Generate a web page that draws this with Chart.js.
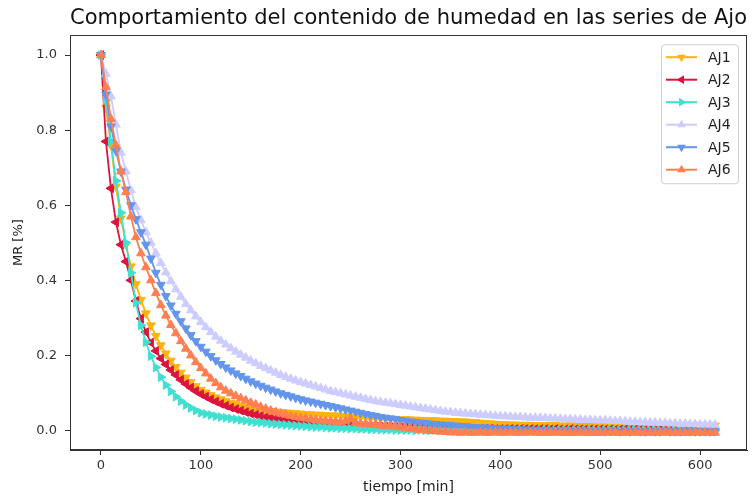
<!doctype html>
<html lang="es">
<head>
<meta charset="utf-8">
<title>Comportamiento del contenido de humedad en las series de Ajo</title>
<script src="https://cdn.jsdelivr.net/npm/chart.js@4.4.0/dist/chart.umd.min.js"></script>
<style>
    html, body { margin: 0; padding: 0; background: #fff; }
    #contenedor { width: 753px; height: 500px; }
</style>
</head>
<body>
<div id="contenedor"><canvas id="grafico"></canvas></div>
<script>
    // tiempo de secado [min]
    const tiempo = [
        0, 5, 10, 15, 20, 25, 30, 35, 40, 45,
        50, 55, 60, 65, 70, 75, 80, 85, 90, 95,
        100, 105, 110, 115, 120, 125, 130, 135, 140, 145,
        150, 155, 160, 165, 170, 175, 180, 185, 190, 195,
        200, 205, 210, 215, 220, 225, 230, 235, 240, 245,
        250, 255, 260, 265, 270, 275, 280, 285, 290, 295,
        300, 305, 310, 315, 320, 325, 330, 335, 340, 345,
        350, 355, 360, 365, 370, 375, 380, 385, 390, 395,
        400, 405, 410, 415, 420, 425, 430, 435, 440, 445,
        450, 455, 460, 465, 470, 475, 480, 485, 490, 495,
        500, 505, 510, 515, 520, 525, 530, 535, 540, 545,
        550, 555, 560, 565, 570, 575, 580, 585, 590, 595,
        600, 605, 610, 615
    ];

    // razon de humedad MR por serie
    const aj1 = [
        1.000, 0.860, 0.760, 0.650, 0.565, 0.495, 0.437, 0.390, 0.348, 0.312,
        0.280, 0.252, 0.227, 0.205, 0.186, 0.169, 0.154, 0.141, 0.129, 0.118,
        0.108, 0.101, 0.094, 0.088, 0.083, 0.078, 0.074, 0.070, 0.066, 0.063,
        0.060, 0.058, 0.056, 0.054, 0.052, 0.050, 0.049, 0.048, 0.047, 0.046,
        0.045, 0.044, 0.043, 0.042, 0.042, 0.041, 0.040, 0.040, 0.039, 0.038,
        0.037, 0.036, 0.036, 0.035, 0.034, 0.034, 0.033, 0.032, 0.032, 0.031,
        0.030, 0.030, 0.029, 0.029, 0.028, 0.028, 0.027, 0.027, 0.026, 0.026,
        0.025, 0.025, 0.024, 0.024, 0.023, 0.022, 0.021, 0.020, 0.019, 0.018,
        0.017, 0.017, 0.016, 0.016, 0.015, 0.015, 0.015, 0.014, 0.014, 0.014,
        0.014, 0.014, 0.013, 0.013, 0.014, 0.013, 0.013, 0.013, 0.014, 0.013,
        0.013, 0.013, 0.013, 0.014, 0.013, 0.013, 0.012, 0.013, 0.013, 0.013,
        0.013, 0.012, 0.013, 0.013, 0.013, 0.012, 0.013, 0.013, 0.012, 0.013,
        0.013, 0.012, 0.013, 0.013
    ];
    const aj2 = [
        1.000, 0.770, 0.645, 0.555, 0.495, 0.450, 0.400, 0.345, 0.298, 0.262,
        0.234, 0.212, 0.192, 0.176, 0.161, 0.148, 0.135, 0.124, 0.114, 0.105,
        0.097, 0.090, 0.083, 0.077, 0.071, 0.066, 0.061, 0.057, 0.053, 0.049,
        0.045, 0.042, 0.039, 0.036, 0.034, 0.032, 0.030, 0.028, 0.026, 0.025,
        0.024, 0.023, 0.022, 0.021, 0.020, 0.019, 0.018, 0.017, 0.016, 0.015,
        0.014, 0.013, 0.012, 0.012, 0.011, 0.011, 0.010, 0.010, 0.009, 0.009,
        0.008, 0.008, 0.008, 0.007, 0.007, 0.007, 0.007, 0.006, 0.006, 0.006,
        0.006, 0.006, 0.005, 0.005, 0.005, 0.005, 0.005, 0.005, 0.005, 0.004,
        0.004, 0.004, 0.004, 0.004, 0.004, 0.004, 0.004, 0.004, 0.004, 0.004,
        0.003, 0.004, 0.003, 0.003, 0.004, 0.003, 0.003, 0.003, 0.003, 0.003,
        0.003, 0.003, 0.003, 0.002, 0.003, 0.003, 0.002, 0.003, 0.002, 0.002,
        0.002, 0.002, 0.003, 0.002, 0.002, 0.002, 0.002, 0.002, 0.002, 0.002,
        0.002, 0.002, 0.002, 0.002
    ];
    const aj3 = [
        1.000, 0.880, 0.770, 0.665, 0.580, 0.500, 0.420, 0.340, 0.280, 0.235,
        0.198, 0.168, 0.142, 0.121, 0.104, 0.090, 0.078, 0.068, 0.060, 0.053,
        0.047, 0.044, 0.041, 0.038, 0.036, 0.034, 0.032, 0.030, 0.028, 0.026,
        0.024, 0.022, 0.021, 0.020, 0.018, 0.017, 0.016, 0.015, 0.014, 0.013,
        0.012, 0.011, 0.010, 0.009, 0.009, 0.008, 0.007, 0.007, 0.006, 0.006,
        0.005, 0.005, 0.004, 0.004, 0.003, 0.003, 0.002, 0.002, 0.002, 0.001,
        0.001, 0.001, 0.001, 0.000, 0.001, 0.000, 0.000, 0.001, 0.000, 0.000,
        0.000, 0.001, 0.000, 0.000, 0.000, 0.001, 0.000, 0.000, 0.000, 0.000,
        0.001, 0.000, 0.000, 0.000, 0.001, 0.000, 0.000, 0.000, 0.000, 0.001,
        0.000, 0.000, 0.000, 0.001, 0.000, 0.000, 0.000, 0.000, 0.001, 0.000,
        0.000, 0.000, 0.001, 0.000, 0.000, 0.000, 0.000, 0.001, 0.000, 0.000,
        0.000, 0.001, 0.000, 0.000, 0.000, 0.000, 0.001, 0.000, 0.000, 0.000,
        0.000, 0.000, 0.000, 0.000
    ];
    const aj4 = [
        1.000, 0.950, 0.890, 0.815, 0.740, 0.690, 0.640, 0.595, 0.560, 0.528,
        0.500, 0.472, 0.446, 0.421, 0.398, 0.376, 0.356, 0.337, 0.320, 0.304,
        0.289, 0.275, 0.262, 0.250, 0.239, 0.229, 0.219, 0.210, 0.202, 0.194,
        0.186, 0.179, 0.172, 0.166, 0.160, 0.154, 0.148, 0.143, 0.138, 0.133,
        0.129, 0.125, 0.121, 0.117, 0.113, 0.109, 0.105, 0.102, 0.099, 0.096,
        0.093, 0.090, 0.087, 0.084, 0.081, 0.078, 0.076, 0.074, 0.072, 0.070,
        0.068, 0.066, 0.064, 0.062, 0.060, 0.058, 0.056, 0.054, 0.052, 0.050,
        0.049, 0.047, 0.046, 0.045, 0.044, 0.043, 0.042, 0.041, 0.040, 0.039,
        0.038, 0.038, 0.037, 0.036, 0.036, 0.035, 0.034, 0.034, 0.034, 0.033,
        0.032, 0.032, 0.031, 0.030, 0.030, 0.029, 0.029, 0.028, 0.028, 0.027,
        0.027, 0.027, 0.026, 0.025, 0.025, 0.024, 0.023, 0.023, 0.022, 0.022,
        0.021, 0.021, 0.020, 0.020, 0.019, 0.019, 0.018, 0.018, 0.017, 0.017,
        0.016, 0.016, 0.016, 0.015
    ];
    const aj5 = [
        1.000, 0.895, 0.810, 0.745, 0.690, 0.642, 0.600, 0.563, 0.528, 0.495,
        0.458, 0.420, 0.388, 0.358, 0.333, 0.311, 0.291, 0.272, 0.254, 0.238,
        0.223, 0.210, 0.198, 0.187, 0.177, 0.168, 0.160, 0.152, 0.145, 0.138,
        0.131, 0.125, 0.119, 0.114, 0.109, 0.104, 0.099, 0.095, 0.091, 0.087,
        0.083, 0.080, 0.077, 0.074, 0.071, 0.068, 0.065, 0.062, 0.059, 0.056,
        0.053, 0.050, 0.047, 0.044, 0.041, 0.039, 0.036, 0.034, 0.032, 0.030,
        0.028, 0.026, 0.024, 0.022, 0.021, 0.020, 0.018, 0.017, 0.016, 0.015,
        0.014, 0.013, 0.012, 0.011, 0.010, 0.009, 0.008, 0.008, 0.007, 0.006,
        0.005, 0.005, 0.004, 0.003, 0.003, 0.002, 0.002, 0.001, 0.001, 0.000,
        0.000, 0.000, -0.001, 0.000, -0.001, -0.001, 0.000, -0.001, -0.001, -0.001,
        -0.001, -0.002, -0.001, -0.001, -0.002, -0.001, -0.002, -0.001, -0.002, -0.002,
        -0.001, -0.002, -0.002, -0.001, -0.002, -0.002, -0.002, -0.001, -0.002, -0.002,
        -0.002, -0.002, -0.002, -0.002
    ];
    const aj6 = [
        1.000, 0.915, 0.830, 0.760, 0.690, 0.635, 0.570, 0.515, 0.472, 0.435,
        0.400, 0.366, 0.334, 0.306, 0.281, 0.259, 0.238, 0.218, 0.200, 0.182,
        0.166, 0.152, 0.138, 0.126, 0.115, 0.106, 0.099, 0.092, 0.086, 0.080,
        0.074, 0.069, 0.063, 0.058, 0.053, 0.049, 0.045, 0.042, 0.039, 0.036,
        0.034, 0.032, 0.030, 0.028, 0.026, 0.025, 0.024, 0.023, 0.022, 0.025,
        0.030, 0.021, 0.018, 0.017, 0.016, 0.015, 0.013, 0.012, 0.011, 0.010,
        0.008, 0.006, 0.005, 0.003, 0.002, 0.000, -0.001, -0.002, -0.003, -0.004,
        -0.005, -0.005, -0.006, -0.005, -0.006, -0.006, -0.005, -0.006, -0.006, -0.005,
        -0.006, -0.006, -0.005, -0.006, -0.006, -0.006, -0.005, -0.006, -0.006, -0.006,
        -0.006, -0.005, -0.006, -0.006, -0.006, -0.006, -0.005, -0.006, -0.006, -0.006,
        -0.006, -0.006, -0.005, -0.006, -0.006, -0.006, -0.006, -0.005, -0.006, -0.006,
        -0.006, -0.006, -0.006, -0.005, -0.006, -0.006, -0.006, -0.006, -0.006, -0.005,
        -0.006, -0.006, -0.006, -0.006
    ];

    const nombres = ['AJ1', 'AJ2', 'AJ3', 'AJ4', 'AJ5', 'AJ6'];
    const valores = [aj1, aj2, aj3, aj4, aj5, aj6];
    const colores = ['#ffb30f', '#dc143c', '#40e0d0', '#ccccff', '#6495ed', '#ff7f50'];
    // giro del triangulo: v, <, >, ^, v, ^
    const giros = [180, 270, 90, 0, 180, 0];

    const marcasX = [0, 100, 200, 300, 400, 500, 600];
    const marcasY = [0, 0.2, 0.4, 0.6, 0.8, 1.0];

    const fuente = 'DejaVu Sans';
    const radioMarca = 5;

    function triangulo(ctx, x, y, r, giro, color) {
        let a = giro * Math.PI / 180;
        ctx.beginPath();
        for (let k = 0; k < 3; k++) {
            const px = x + Math.sin(a) * r, py = y - Math.cos(a) * r;
            k === 0 ? ctx.moveTo(px, py) : ctx.lineTo(px, py);
            a += 2 * Math.PI / 3;
        }
        ctx.closePath();
        ctx.fillStyle = color;
        ctx.fill();
    }

    // fondo blanco y marco completo del area de trazado
    const marco = {
        id: 'marco',
        beforeDraw(chart) {
            const ctx = chart.ctx;
            ctx.save();
            ctx.fillStyle = '#fff';
            ctx.fillRect(0, 0, chart.width, chart.height);
            ctx.restore();
        },
        afterDatasetsDraw(chart) {
            const {left, top, right, bottom} = chart.chartArea;
            const ctx = chart.ctx;
            ctx.save();
            ctx.strokeStyle = '#333';
            ctx.lineWidth = 1;
            ctx.strokeRect(Math.round(left) + 0.5, Math.round(top) + 0.5,
                Math.round(right - left) - 1, Math.round(bottom - top) - 1);
            ctx.restore();
        }
    };

    // leyenda dentro del grafico, arriba a la derecha
    const leyenda = {
        id: 'leyendaInterna',
        afterDraw(chart) {
            const ctx = chart.ctx;
            const area = chart.chartArea;
            const ancho = 77, fila = 22.5;
            const alto = fila * nombres.length + 4;
            const x0 = area.right - 9 - ancho, y0 = area.top + 9;
            ctx.save();
            ctx.beginPath();
            ctx.roundRect(x0 + 0.5, y0 + 0.5, ancho, alto, 3);
            ctx.fillStyle = 'rgba(255,255,255,0.8)';
            ctx.fill();
            ctx.strokeStyle = '#d0d0d0';
            ctx.lineWidth = 1;
            ctx.stroke();
            ctx.font = '14px "' + fuente + '"';
            ctx.textBaseline = 'middle';
            nombres.forEach((nombre, i) => {
                const y = y0 + 13 + i * fila;
                ctx.beginPath();
                ctx.moveTo(x0 + 5, y);
                ctx.lineTo(x0 + 36, y);
                ctx.strokeStyle = colores[i];
                ctx.lineWidth = 2;
                ctx.stroke();
                triangulo(ctx, x0 + 20.5, y, radioMarca, giros[i], colores[i]);
                ctx.fillStyle = '#222';
                ctx.fillText(nombre, x0 + 47, y + 1);
            });
            ctx.restore();
        }
    };

    new Chart(document.getElementById('grafico').getContext('2d'), {
        type: 'line',
        data: {
            datasets: nombres.map((nombre, i) => ({
                label: nombre,
                data: tiempo.map((t, k) => ({x: t, y: valores[i][k]})),
                borderColor: colores[i],
                backgroundColor: colores[i],
                borderWidth: 1.8,
                tension: 0,
                pointStyle: 'triangle',
                pointRadius: radioMarca,
                pointRotation: giros[i],
                pointBorderWidth: 1,
                pointBorderColor: colores[i],
                pointBackgroundColor: colores[i],
                // AJ6 queda encima de las demas
                order: nombres.length - i
            }))
        },
        options: {
            responsive: true,
            maintainAspectRatio: false,
            animation: false,
            layout: {padding: {left: 0, right: 6, top: 0, bottom: 0}},
            plugins: {
                legend: {display: false},
                tooltip: {enabled: false},
                title: {
                    display: true,
                    fullSize: false,
                    text: 'Comportamiento del contenido de humedad en las series de Ajo',
                    color: '#111',
                    font: {family: fuente, size: 21, weight: 'normal'},
                    padding: {top: 6, bottom: 4}
                }
            },
            scales: {
                x: {
                    type: 'linear',
                    min: -31,
                    max: 647,
                    afterBuildTicks: eje => { eje.ticks = marcasX.map(v => ({value: v})); },
                    afterFit: eje => { eje.height = 50; },
                    ticks: {color: '#333', padding: 3, font: {family: fuente, size: 13}},
                    grid: {drawOnChartArea: false, drawTicks: true, tickLength: 5, tickColor: '#333'},
                    border: {display: true, color: '#333'},
                    title: {
                        display: true,
                        text: 'tiempo [min]',
                        color: '#222',
                        font: {family: fuente, size: 14},
                        padding: 4
                    }
                },
                y: {
                    type: 'linear',
                    min: -0.052,
                    max: 1.053,
                    afterBuildTicks: eje => { eje.ticks = marcasY.map(v => ({value: v})); },
                    afterFit: eje => { eje.width = 70; },
                    ticks: {
                        color: '#333',
                        padding: 8,
                        font: {family: fuente, size: 13},
                        callback: v => v.toFixed(1)
                    },
                    grid: {drawOnChartArea: false, drawTicks: true, tickLength: 5, tickColor: '#333'},
                    border: {display: true, color: '#333'},
                    title: {
                        display: true,
                        text: 'MR [%]',
                        color: '#222',
                        font: {family: fuente, size: 13},
                        padding: 11
                    }
                }
            }
        },
        plugins: [marco, leyenda]
    });
</script>
</body>
</html>
